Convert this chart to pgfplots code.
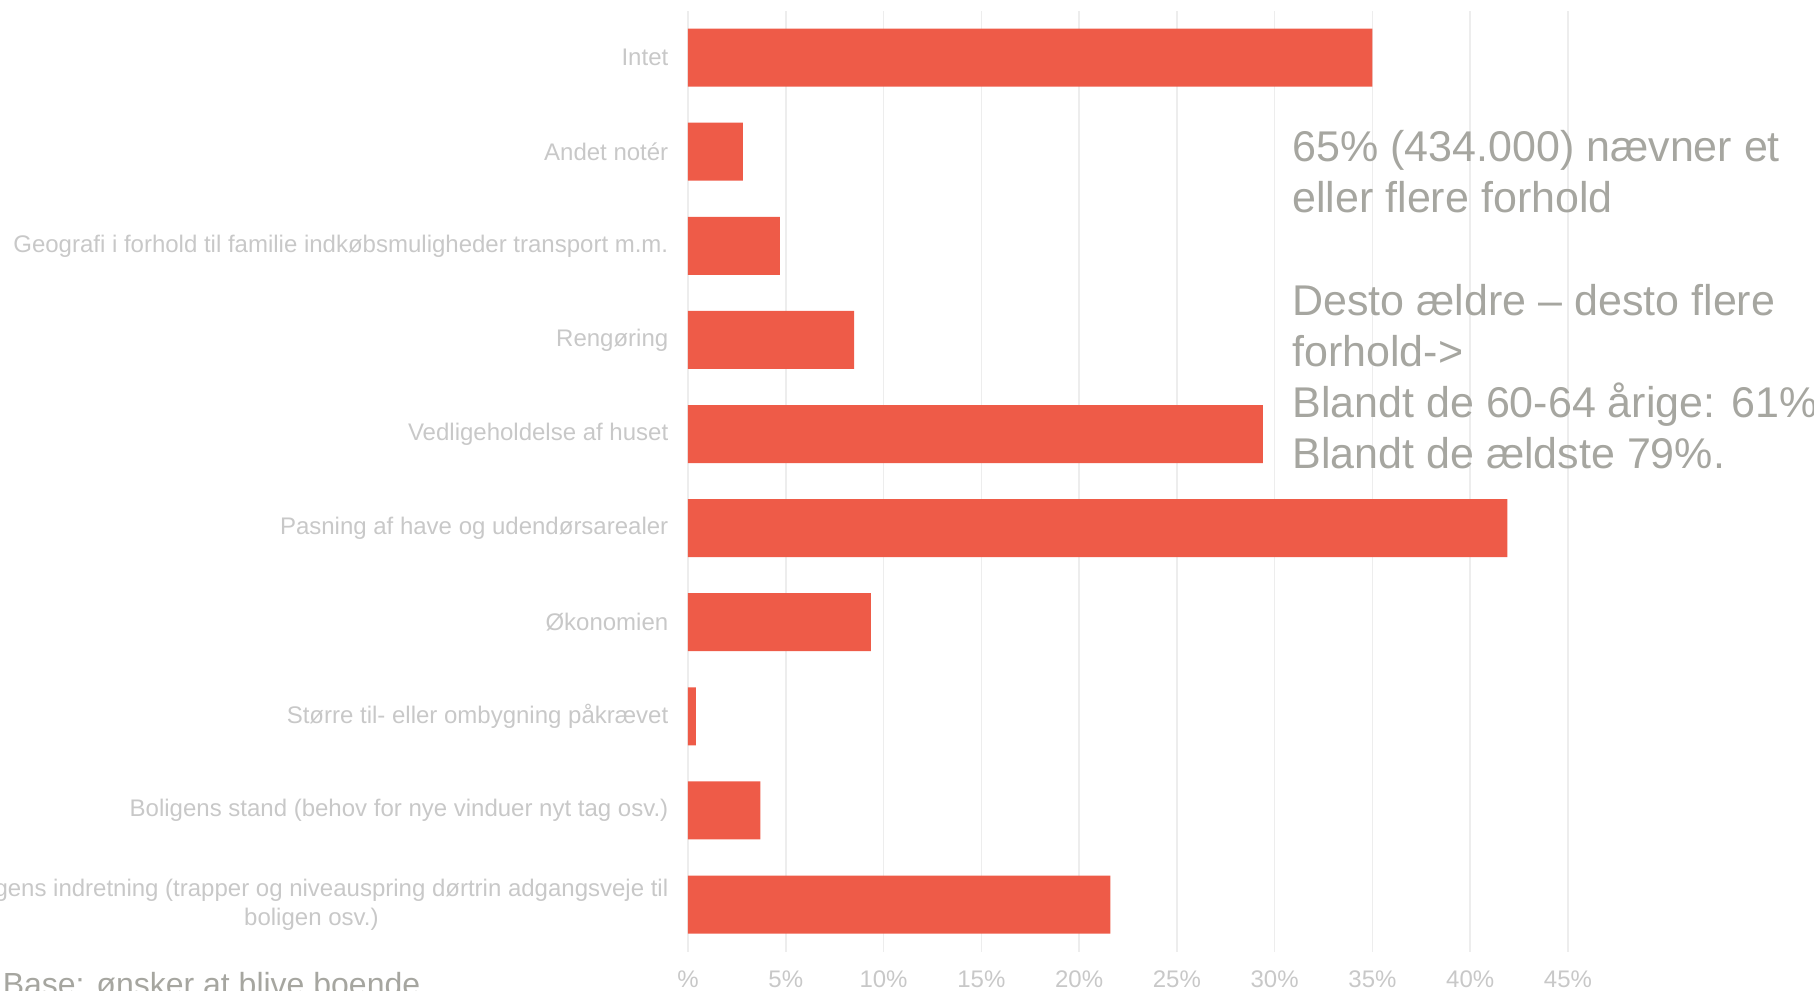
\documentclass[border=0pt]{standalone}
\usepackage{pgfplots}
\pgfplotsset{compat=1.18}
\usepackage{fontspec}
\setmainfont{Liberation Sans}
\definecolor{barred}{HTML}{EE5B48}
\definecolor{lbl}{HTML}{C8C8C8}
\definecolor{note}{HTML}{A6A6A0}
\definecolor{gridc}{HTML}{EDEDED}
\begin{document}
\begin{tikzpicture}
\begin{axis}[
  at={(344pt,19.2pt)}, anchor=south west,
  scale only axis, width=440pt, height=470.5pt,
  xmin=0, xmax=45, ymin=-0.5, ymax=9.5,
  xbar, bar width=29pt, bar shift=0pt,
  axis line style={draw=none},
  major tick style={draw=none},
  xmajorgrids, major grid style={draw=gridc, line width=0.8pt},
  xtick={0,5,10,15,20,25,30,35,40,45},
  xticklabels={\%,5\%,10\%,15\%,20\%,25\%,30\%,35\%,40\%,45\%},
  xticklabel style={font=\fontsize{12}{14}\selectfont, text=lbl, anchor=base, yshift=-17.7pt},
  ytick={0,1,2,3,4,5,6,7,8,9},
  yticklabels={{Boligens indretning (trapper og niveauspring dørtrin adgangsveje til\\boligen osv.)},
    {Boligens stand (behov for nye vinduer nyt tag osv.)},
    {Større til- eller ombygning påkrævet},
    {Økonomien},
    {Pasning af have og udendørsarealer},
    {Vedligeholdelse af huset},
    {Rengøring},
    {Geografi i forhold til familie indkøbsmuligheder transport m.m.},
    {Andet notér},
    {Intet}},
  yticklabel style={font=\fontsize{12}{14.5}\selectfont, text=lbl, anchor=east, align=center, inner sep=0pt, xshift=-5.4pt},
]
\addplot[fill=barred, draw=none] coordinates {
  (21.6,0) (3.7,1) (0.4,2) (9.35,3) (41.9,4) (29.4,5) (8.5,6) (4.7,7) (2.8,8) (35.0,9)
};
\end{axis}
\node[anchor=base west, inner sep=0pt, text=note] at (646pt,414.2pt) {\parbox[t]{300pt}{\raggedright\fontsize{21.5}{25.6}\selectfont
65\% (434.000) nævner et\\
eller flere forhold\\[25.6pt]
Desto ældre – desto flere\\
forhold->\\
Blandt de 60-64 årige: 61\%\\
Blandt de ældste 79\%.}};
\node[anchor=base west, inner sep=0pt, text=note, font=\fontsize{16}{19}\selectfont] at (1.2pt,-2.5pt) {Base: ønsker at blive boende};
\pgfresetboundingbox
\useasboundingbox (0,0) rectangle (907pt,495pt);
\end{tikzpicture}
\end{document}
